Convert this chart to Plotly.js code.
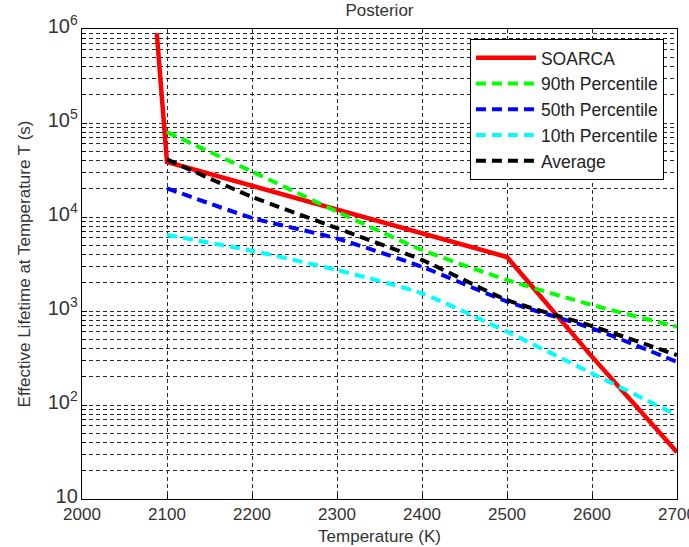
<!DOCTYPE html>
<html>
<head>
<meta charset="utf-8">
<script src="https://cdn.plot.ly/plotly-3.0.1.min.js"></script>
<style>html,body{margin:0;padding:0;background:#fff;overflow:hidden;}#chart{width:689px;height:547px;}</style>
</head>
<body>
<div id="chart"></div>
<script>
// Temperatures (K) for the percentile / average curves
const temps = [2100, 2200, 2300, 2400, 2500, 2600, 2700];
// SOARCA reference curve
const soarcaT = [2088, 2100, 2500, 2600, 2700];
const soarcaLife = [9.0e5, 3.85e4, 3.75e3, 3.27e2, 31.5];
// Posterior curves: effective lifetime (s)
const p90 = [8.0e4, 3.05e4, 1.14e4, 4.46e3, 2.14e3, 1.16e3, 6.8e2];
const p50 = [2.02e4, 9.8e3, 5.9e3, 2.95e3, 1.26e3, 654, 288];
const p10 = [6.44e3, 4.37e3, 2.73e3, 1.54e3, 603, 217, 78];
const avg = [4.1e4, 1.64e4, 7.6e3, 3.49e3, 1.31e3, 692, 340];
const names = ['SOARCA', '90th Percentile', '50th Percentile', '10th Percentile', 'Average'];

const font = 'Liberation Sans, Arial, sans-serif';
const dashStyle = '10px,6px';
const gridCol = '#2a2a2a';
const gridDash = '4px,3px';

const traces = [
  {x: soarcaT, y: soarcaLife, name: names[0], line: {color: '#ff0000', width: 4.5}},
  {x: temps, y: p90, name: names[1], line: {color: '#00ff00', width: 4, dash: dashStyle, shape: 'spline', smoothing: 0.6}},
  {x: temps, y: p50, name: names[2], line: {color: '#0000ff', width: 4, dash: dashStyle, shape: 'spline', smoothing: 0.6}},
  {x: temps, y: p10, name: names[3], line: {color: '#00ffff', width: 4, dash: dashStyle, shape: 'spline', smoothing: 0.6}},
  {x: temps, y: avg, name: names[4], line: {color: '#000000', width: 4, dash: dashStyle, shape: 'spline', smoothing: 0.6}}
].map((t, i) => Object.assign({type: 'scatter', mode: 'lines', legendgroup: 'g' + i}, t));

const layout = {
  width: 689, height: 547,
  margin: {l: 82, r: 12, t: 29, b: 48},
  paper_bgcolor: '#fff', plot_bgcolor: '#fff',
  font: {family: font, size: 17, color: '#333'},
  title: {text: 'Posterior', font: {family: font, size: 17, color: '#333'},
          xref: 'paper', x: 0.5, xanchor: 'center', yref: 'container', y: 0.982, yanchor: 'middle'},
  showlegend: true,
  legend: {x: 0.652, y: 0.979, xanchor: 'left', yanchor: 'top', bgcolor: '#fff',
           bordercolor: '#000', borderwidth: 1, font: {family: font, size: 17.5, color: '#222'},
           traceorder: 'grouped', tracegroupgap: 0, itemwidth: 60},
  xaxis: {
    range: [2000, 2700], tick0: 2000, dtick: 100, zeroline: false,
    showgrid: true, gridcolor: gridCol, griddash: gridDash, gridwidth: 1,
    showline: true, mirror: true, linecolor: '#000', linewidth: 1,
    ticks: 'inside', ticklen: 5, tickcolor: '#000', ticklabeloverflow: 'allow',
    tickfont: {family: font, size: 17, color: '#333'},
    title: {text: 'Temperature (K)', font: {family: font, size: 17, color: '#333'}, standoff: 6}
  },
  yaxis: {
    type: 'log', range: [1, 6], dtick: 1, exponentformat: 'power', zeroline: false,
    showgrid: true, gridcolor: gridCol, griddash: gridDash, gridwidth: 1,
    showline: true, mirror: true, linecolor: '#000', linewidth: 1,
    ticks: 'inside', ticklen: 5, tickcolor: '#000', ticklabelshift: -3,
    tickfont: {family: font, size: 16, color: '#333'},
    minor: {dtick: 'D1', showgrid: true, gridcolor: gridCol, griddash: gridDash, gridwidth: 1,
            ticks: 'inside', ticklen: 3, tickcolor: '#000'},
    title: {text: 'Effective Lifetime at Temperature T (s)', font: {family: font, size: 17, color: '#333'}, standoff: 12}
  }
};

Plotly.newPlot('chart', traces, layout, {staticPlot: true, displayModeBar: false});
</script>
</body>
</html>
